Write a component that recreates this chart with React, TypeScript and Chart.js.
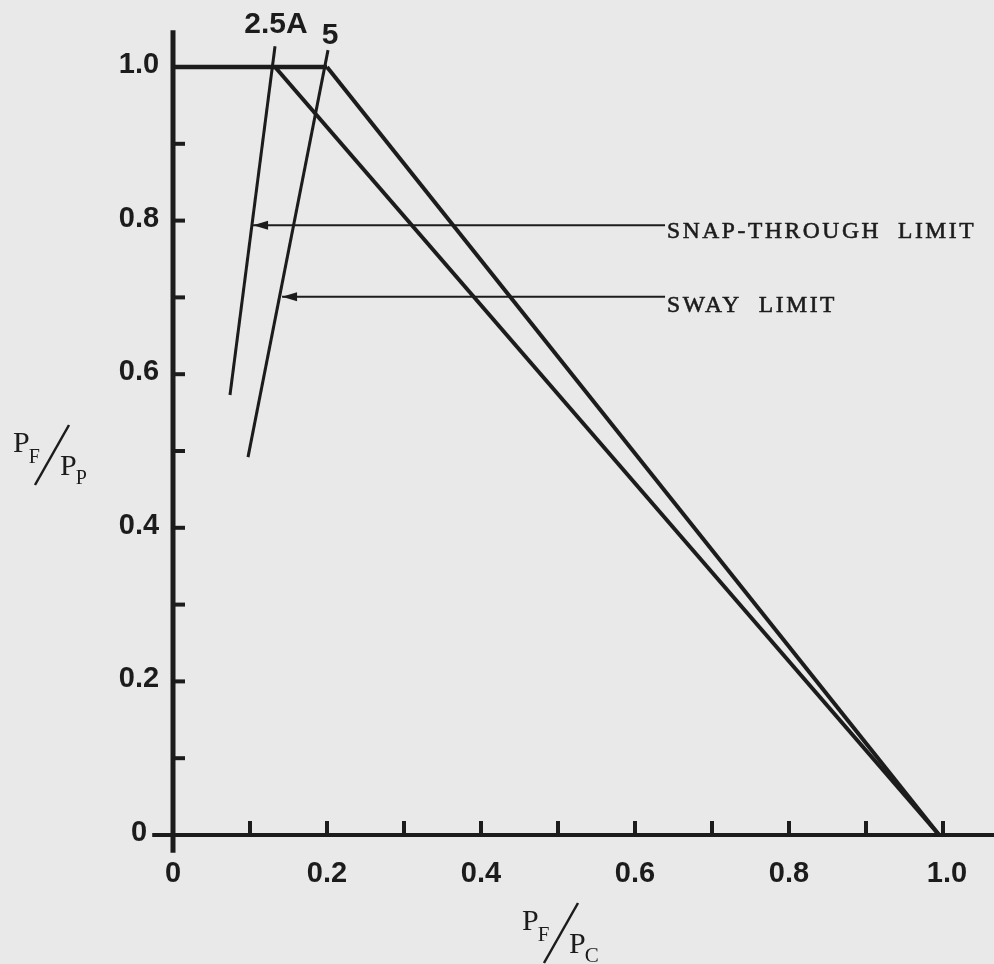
import { useEffect, useRef } from "react";
import { Chart, registerables } from "chart.js";

Chart.register(...registerables);

// ---- data ----
const capX = [0, 0.2];
const capY = [1.0, 1.0];
const diag25AX = [0.1325, 0.995];
const diag25AY = [1.0, 0];
const diag5X = [0.2, 0.995];
const diag5Y = [1.0, 0];
const limit25AX = [0.074, 0.1325];
const limit25AY = [0.573, 1.027];
const limit5X = [0.0974, 0.2013];
const limit5Y = [0.492, 1.022];
const snapArrowX = [0.104, 0.639];
const snapArrowY = [0.794, 0.794];
const swayArrowX = [0.1416, 0.639];
const swayArrowY = [0.701, 0.701];

const xTickValues = [0.1, 0.2, 0.3, 0.4, 0.5, 0.6, 0.7, 0.8, 0.9, 1.0];
const xLabelValues = [0, 0.2, 0.4, 0.6, 0.8, 1.0];
const xLabelTexts = ["0", "0.2", "0.4", "0.6", "0.8", "1.0"];
const yTickValues = [0.1, 0.2, 0.3, 0.4, 0.5, 0.6, 0.7, 0.8, 0.9, 1.0];
const yLabelValues = [0, 0.2, 0.4, 0.6, 0.8, 1.0];
const yLabelTexts = ["0", "0.2", "0.4", "0.6", "0.8", "1.0"];
const curveLabels = ["2.5A", "5"];
const annotationTexts = ["SNAP-THROUGH  LIMIT", "SWAY  LIMIT"];

const INK = "#1c1c1c";
const BG = "#e9e9e9";

const pts = (xs: number[], ys: number[]) => xs.map((x, i) => ({ x, y: ys[i] }));

function drawFraction(
  ctx: CanvasRenderingContext2D,
  ox: number,
  oy: number,
  big: number,
  small: number,
  num: string,
  numSub: string,
  den: string,
  denSub: string
) {
  ctx.fillStyle = INK;
  ctx.textAlign = "left";
  ctx.textBaseline = "alphabetic";
  ctx.font = `${big}px 'Liberation Serif'`;
  ctx.fillText(num, ox, oy);
  const w1 = ctx.measureText(num).width;
  ctx.font = `${small}px 'Liberation Serif'`;
  ctx.fillText(numSub, ox + w1 - 1, oy + 11);
  ctx.lineWidth = 2.5;
  ctx.strokeStyle = INK;
  ctx.beginPath();
  ctx.moveTo(ox + 22, oy + 33);
  ctx.lineTo(ox + 56, oy - 27);
  ctx.stroke();
  ctx.font = `${big}px 'Liberation Serif'`;
  ctx.fillText(den, ox + 47, oy + 23);
  const w2 = ctx.measureText(den).width;
  ctx.font = `${small}px 'Liberation Serif'`;
  ctx.fillText(denSub, ox + 47 + w2 - 1, oy + 32);
}

const sketchPlugin = {
  id: "sketch",
  beforeDraw(chart: any) {
    const ctx = chart.ctx as CanvasRenderingContext2D;
    ctx.save();
    ctx.fillStyle = BG;
    ctx.fillRect(0, 0, chart.width, chart.height);
    ctx.restore();
  },
  afterDatasetsDraw(chart: any) {
    const ctx = chart.ctx as CanvasRenderingContext2D;
    const xs = chart.scales.x;
    const ys = chart.scales.y;
    const px = (v: number) => xs.getPixelForValue(v);
    const py = (v: number) => ys.getPixelForValue(v);
    const x0 = px(0);
    const y0 = py(0);
    ctx.save();
    ctx.strokeStyle = INK;
    ctx.fillStyle = INK;
    ctx.lineCap = "butt";

    // axes
    ctx.lineWidth = 5;
    ctx.beginPath();
    ctx.moveTo(x0, py(1.048));
    ctx.lineTo(x0, py(-0.023));
    ctx.stroke();
    ctx.lineWidth = 4;
    ctx.beginPath();
    ctx.moveTo(px(-0.027), y0);
    ctx.lineTo(px(1.07), y0);
    ctx.stroke();

    // ticks (inward)
    ctx.lineWidth = 4;
    for (const v of xTickValues) {
      ctx.beginPath();
      ctx.moveTo(px(v), y0);
      ctx.lineTo(px(v), y0 - 14);
      ctx.stroke();
    }
    for (const v of yTickValues) {
      ctx.beginPath();
      ctx.moveTo(x0, py(v));
      ctx.lineTo(x0 + 12, py(v));
      ctx.stroke();
    }

    // tick labels
    ctx.font = "bold 29px 'Liberation Sans'";
    ctx.textAlign = "center";
    ctx.textBaseline = "middle";
    xLabelValues.forEach((v, i) => {
      ctx.fillText(xLabelTexts[i], px(v) + (i === xLabelValues.length - 1 ? 4 : 0), y0 + 39);
    });
    yLabelValues.forEach((v, i) => {
      ctx.fillText(yLabelTexts[i], x0 - 34, py(v) - 2);
    });

    // curve labels
    ctx.font = "bold 30px 'Liberation Sans'";
    ctx.fillText(curveLabels[0], px(limit25AX[1]) + 1, py(limit25AY[1]) - 22);
    ctx.fillText(curveLabels[1], px(limit5X[1]) + 2, py(limit5Y[1]) - 14);

    // arrowheads
    const heads = [
      [snapArrowX[0], snapArrowY[0]],
      [swayArrowX[0], swayArrowY[0]],
    ];
    for (const [hx, hy] of heads) {
      const tx = px(hx);
      const ty = py(hy);
      ctx.beginPath();
      ctx.moveTo(tx, ty);
      ctx.lineTo(tx + 15, ty - 4.5);
      ctx.lineTo(tx + 15, ty + 4.5);
      ctx.closePath();
      ctx.fill();
    }

    // annotation texts
    ctx.font = "23.5px 'Liberation Serif'";
    (ctx as any).letterSpacing = "2.6px";
    ctx.textAlign = "left";
    ctx.textBaseline = "alphabetic";
    ctx.lineWidth = 0.6;
    const ann: [string, number, number][] = [
      [annotationTexts[0], px(snapArrowX[1]) + 2, py(snapArrowY[1]) + 13],
      [annotationTexts[1], px(swayArrowX[1]) + 2, py(swayArrowY[1]) + 15],
    ];
    for (const [t, ax, ay] of ann) {
      ctx.fillText(t, ax, ay);
      ctx.strokeText(t, ax, ay);
    }
    (ctx as any).letterSpacing = "0px";

    // axis titles
    drawFraction(ctx, 13, 452, 30, 20, "P", "F", "P", "P");
    drawFraction(ctx, 522, 930, 30, 21, "P", "F", "P", "C");

    ctx.restore();
  },
};

export default function App() {
  const ref = useRef<HTMLCanvasElement | null>(null);

  useEffect(() => {
    document.body.style.margin = "0";
    document.body.style.background = BG;
    const canvas = ref.current;
    if (!canvas) return;
    const line = (data: { x: number; y: number }[], w: number) => ({
      data,
      showLine: true,
      borderColor: INK,
      borderWidth: w,
      pointRadius: 0,
      pointHoverRadius: 0,
      fill: false,
      tension: 0,
    });
    const chart = new Chart(canvas, {
      type: "scatter",
      data: {
        datasets: [
          line(pts(capX, capY), 4.5),
          line(pts(diag25AX, diag25AY), 4),
          line(pts(diag5X, diag5Y), 4),
          line(pts(limit25AX, limit25AY), 3),
          line(pts(limit5X, limit5Y), 3),
          line(pts(snapArrowX, snapArrowY), 2),
          line(pts(swayArrowX, swayArrowY), 2),
        ] as any,
      },
      options: {
        animation: false,
        responsive: false,
        maintainAspectRatio: false,
        devicePixelRatio: 1,
        layout: { padding: 0 },
        plugins: {
          legend: { display: false },
          tooltip: { enabled: false },
          title: { display: false },
        },
        events: [],
        scales: {
          x: { type: "linear", min: -0.22468, max: 1.06623, display: false },
          y: { type: "linear", min: -0.16797, max: 1.08724, display: false },
        },
      },
      plugins: [sketchPlugin],
    });
    return () => chart.destroy();
  }, []);

  return (
    <canvas
      ref={ref}
      width={994}
      height={964}
      style={{ display: "block", width: 994, height: 964 }}
    />
  );
}
